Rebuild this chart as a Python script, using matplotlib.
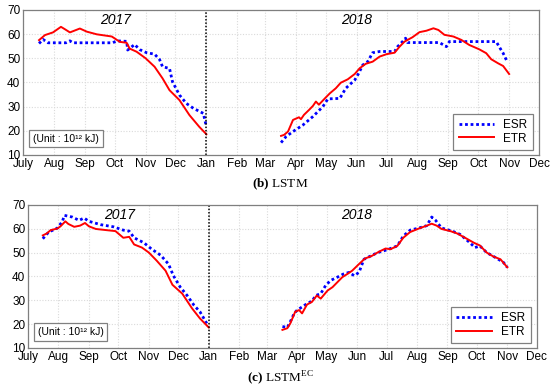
#!/usr/bin/env python3
"""ESR vs ETR daily series, LSTM and LSTM-EC panels."""

import numpy as np
import matplotlib

matplotlib.use("Agg")
import matplotlib.pyplot as plt

plt.rcParams["font.family"] = ["Liberation Sans", "DejaVu Sans"]
plt.rcParams["mathtext.fontset"] = "custom"
plt.rcParams["mathtext.rm"] = "Liberation Serif"
plt.rcParams["mathtext.bf"] = "Liberation Serif:bold"

# x values are days since 2017-07-01
MONTH_LABELS = ["July", "Aug", "Sep", "Oct", "Nov", "Dec", "Jan", "Feb", "Mar",
                "Apr", "May", "Jun", "Jul", "Aug", "Sep", "Oct", "Nov", "Dec"]

# (b) LSTM
b_etr17_day = [16, 22, 30, 38, 42, 47, 57, 64, 74, 89, 92, 97, 104, 107, 114, 123,
               132, 140, 147, 157, 167, 177, 184]
b_etr17 = [57.5, 59.6, 60.7, 63.0, 62.0, 60.7, 62.3, 61.0, 59.9, 59.0, 58.2, 56.8,
           56.4, 54.0, 52.7, 50.0, 46.5, 41.7, 36.8, 32.7, 26.5, 21.6, 18.6]
b_esr17_day = [16, 20, 25, 43, 47, 50, 90, 94, 104, 105, 112, 117, 124, 132, 137,
               140, 147, 150, 157, 164, 171, 181, 184]
b_esr17 = [56.1, 57.8, 56.4, 56.4, 57.2, 56.4, 56.4, 57.2, 57.0, 53.4, 55.7, 53.6,
           52.3, 51.7, 49.5, 46.5, 45.8, 40.3, 34.8, 31.3, 29.3, 27.2, 21.7]
b_etr18_day = [259, 262, 266, 271, 277, 279, 282, 287, 291, 294, 297, 303, 308, 314,
               319, 326, 333, 338, 344, 351, 358, 365, 373, 378, 383, 391, 398, 405,
               412, 417, 423, 432, 440, 448, 458, 465, 470, 477, 482, 488]
b_etr18 = [17.9, 18.3, 19.7, 24.5, 25.6, 24.8, 26.6, 28.6, 30.3, 32.1, 30.8, 33.4,
           35.5, 37.6, 39.9, 41.3, 43.5, 45.9, 47.7, 48.6, 50.7, 51.7, 52.3, 54.8,
           56.9, 58.7, 60.8, 61.4, 62.4, 61.7, 59.7, 59.0, 57.6, 55.5, 53.7, 52.1,
           49.6, 47.9, 46.8, 43.5]
b_esr18_day = [259, 264, 271, 281, 291, 301, 306, 318, 324, 333, 337, 341, 346, 351,
               358, 373, 376, 381, 384, 386, 405, 418, 425, 428, 448, 475, 479, 482, 486]
b_esr18 = [15.1, 17.6, 19.7, 22.4, 25.9, 30.0, 33.2, 33.4, 37.6, 41.0, 43.8, 47.2,
           48.6, 52.3, 52.8, 52.8, 54.8, 56.9, 58.3, 56.5, 56.5, 56.5, 54.8, 56.9,
           56.9, 56.9, 54.1, 52.1, 48.6]

# (c) LSTM-EC
c_etr17_day = [15, 19, 23, 30, 33, 38, 41, 47, 53, 58, 62, 69, 80, 89, 97, 103, 108,
               116, 123, 131, 140, 147, 157, 167, 175, 184]
c_etr17 = [57.2, 58.0, 59.4, 60.1, 61.0, 63.1, 62.0, 60.8, 61.3, 62.4, 61.0, 59.9,
           59.4, 59.0, 56.2, 56.6, 53.4, 52.1, 50.0, 46.6, 42.4, 36.5, 32.8, 26.6,
           22.4, 18.6]
c_esr17_day = [15, 21, 30, 35, 37, 45, 52, 57, 62, 74, 87, 97, 103, 108, 118, 126,
               135, 143, 148, 155, 162, 169, 175, 182]
c_esr17 = [55.8, 58.6, 60.3, 63.1, 65.6, 64.9, 63.5, 64.5, 63.1, 61.7, 60.8, 59.4,
           59.0, 56.2, 54.1, 51.4, 48.9, 45.2, 40.3, 35.5, 32.0, 27.9, 25.2, 20.3]
c_etr18_day = [259, 264, 267, 272, 276, 279, 284, 289, 294, 298, 305, 310, 315, 320,
               325, 330, 337, 343, 350, 357, 364, 369, 376, 382, 389, 398, 406, 411,
               416, 421, 430, 437, 445, 454, 460, 467, 474, 481, 488]
c_etr18 = [17.6, 18.3, 20.3, 25.2, 25.9, 24.5, 28.2, 29.3, 32.0, 30.7, 34.1, 35.5,
           37.6, 39.7, 41.0, 42.4, 45.2, 47.5, 48.6, 50.3, 51.7, 51.4, 52.8, 56.2,
           58.6, 60.1, 61.3, 62.1, 61.3, 59.9, 59.0, 58.0, 56.2, 54.1, 53.0, 50.0,
           48.3, 47.2, 43.8]
c_esr18_day = [259, 264, 267, 271, 274, 279, 284, 289, 293, 298, 303, 308, 315, 321,
               327, 332, 337, 342, 349, 356, 362, 369, 376, 382, 389, 398, 406, 411,
               415, 421, 432, 440, 450, 455, 460, 467, 476, 484, 488]
c_esr18 = [19.0, 18.6, 21.0, 24.5, 25.9, 27.2, 28.6, 29.6, 32.0, 32.8, 36.2, 38.3,
           39.7, 41.0, 41.7, 40.3, 41.7, 47.2, 48.6, 50.0, 50.7, 51.7, 52.8, 56.9,
           59.4, 60.3, 61.3, 64.9, 63.5, 60.3, 59.0, 57.6, 54.1, 52.1, 52.8, 50.0,
           47.9, 45.9, 43.8]

START = np.datetime64("2017-07-01")
months = np.arange("2017-07", "2019-01", dtype="datetime64[M]").astype("datetime64[D]")
month_days = (months - START).astype(int)
year_break = int((np.datetime64("2018-01-01") - START).astype(int))


def draw_panel(ax, esr, etr):
    ax.set_xlim(month_days[0], month_days[-1])
    ax.set_ylim(10, 70)
    ax.set_xticks(month_days)
    ax.set_xticklabels(MONTH_LABELS)
    ax.set_yticks(range(10, 71, 10))
    ax.tick_params(labelsize=8.5, length=0, pad=2)
    ax.grid(True, color="#dadada", linestyle=(0, (1, 1.5)), linewidth=0.8)
    for s in ax.spines.values():
        s.set_color("#7f7f7f")
        s.set_linewidth(0.9)

    for (x, y) in esr:
        l_esr, = ax.plot(x, y, color="#0000ff", linestyle=(0, (1, 1)), linewidth=2.0, label="ESR")
    for (x, y) in etr:
        l_etr, = ax.plot(x, y, color="#ff0000", linewidth=1.4, label="ETR")

    ax.axvline(year_break, color="black", linestyle=(0, (1, 1.2)), linewidth=1.1)
    ax.text(93, 65.8, "2017", fontsize=10, style="italic", ha="center", va="center")
    ax.text(335, 65.8, "2018", fontsize=10, style="italic", ha="center", va="center")
    ax.text(10, 16.7, "(Unit : 10\u00b9\u00b2 kJ)", fontsize=7.5, va="center", ha="left",
            bbox=dict(boxstyle="square,pad=0.35", facecolor="white", edgecolor="#808080", linewidth=0.9))
    leg = ax.legend(handles=[l_esr, l_etr], loc="lower right", fontsize=8.5, handlelength=3.0,
                    fancybox=False, edgecolor="#808080", framealpha=1, borderpad=0.45,
                    labelspacing=0.15, borderaxespad=0, bbox_to_anchor=(0.988, 0.035))
    leg.get_frame().set_linewidth(0.9)


fig = plt.figure(figsize=(5.5, 3.9), dpi=100)
ax_b = fig.add_axes([0.042, 0.6026, 0.938, 0.372])
ax_c = fig.add_axes([0.051, 0.1077, 0.925, 0.367])

draw_panel(ax_b, [(b_esr17_day, b_esr17), (b_esr18_day, b_esr18)],
           [(b_etr17_day, b_etr17), (b_etr18_day, b_etr18)])
draw_panel(ax_c, [(c_esr17_day, c_esr17), (c_esr18_day, c_esr18)],
           [(c_etr17_day, c_etr17), (c_etr18_day, c_etr18)])

fig.text(0.509, 0.528, r"$\mathbf{(b)}$ LSTM", fontsize=9.5, family="Liberation Serif", ha="center", va="center")
fig.text(0.509, 0.03, r"$\mathbf{(c)}$ LSTM$^{\mathrm{EC}}$", fontsize=9.5, family="Liberation Serif",
         ha="center", va="center")

fig.savefig("out.png", dpi=100)
